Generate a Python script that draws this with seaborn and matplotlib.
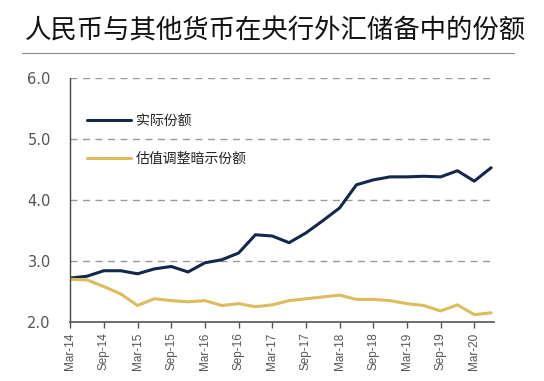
import numpy as np
import pandas as pd
import matplotlib
matplotlib.use('Agg')
import matplotlib.pyplot as plt
import seaborn as sns

# 季度数据 Mar-14 .. Jun-20
quarters = ['Mar-14', 'Jun-14', 'Sep-14', 'Dec-14', 'Mar-15', 'Jun-15', 'Sep-15', 'Dec-15',
            'Mar-16', 'Jun-16', 'Sep-16', 'Dec-16', 'Mar-17', 'Jun-17', 'Sep-17', 'Dec-17',
            'Mar-18', 'Jun-18', 'Sep-18', 'Dec-18', 'Mar-19', 'Jun-19', 'Sep-19', 'Dec-19',
            'Mar-20', 'Jun-20']
actual = [2.72, 2.75, 2.84, 2.84, 2.79, 2.87, 2.91, 2.82, 2.97, 3.02, 3.13, 3.43, 3.41,
          3.30, 3.46, 3.66, 3.87, 4.25, 4.33, 4.38, 4.38, 4.39, 4.38, 4.48, 4.31, 4.53]
implied = [2.70, 2.69, 2.58, 2.46, 2.27, 2.38, 2.35, 2.33, 2.35, 2.27, 2.30, 2.25, 2.28,
           2.35, 2.38, 2.41, 2.44, 2.37, 2.37, 2.35, 2.30, 2.27, 2.18, 2.28, 2.12, 2.15]
series_names = ['实际份额', '估值调整暗示份额']
colors = ['#14284b', '#dcbc5c']

df = pd.DataFrame({'idx': np.arange(len(quarters)), series_names[0]: actual, series_names[1]: implied})
long = df.melt(id_vars='idx', var_name='series', value_name='value')

sns.set_style('white')
plt.rcParams['font.family'] = ['Noto Sans CJK SC', 'DejaVu Sans']

fig = plt.figure(figsize=(5.44, 3.81), dpi=100)
ax = fig.add_axes([0.129, 0.155, 0.78, 0.64])

sns.lineplot(data=long, x='idx', y='value', hue='series', palette=colors, linewidth=2.2, ax=ax)

ax.set_ylim(2.0, 6.0)
ax.set_xlim(0, len(quarters) - 0.8)
ax.set_yticks([2.0, 3.0, 4.0, 5.0, 6.0])
ax.set_yticklabels(['2.0', '3.0', '4.0', '5.0', '6.0'], family=['DejaVu Sans'], fontsize=10.5, color='#555555')
ax.set_xticks(np.arange(0, len(quarters), 2))
ax.set_xticklabels(quarters[::2], rotation=90, fontsize=8.5, color='#555555', family=['Liberation Sans'])
ax.tick_params(axis='x', length=4, width=1, color='#555555', direction='out', bottom=True)
ax.tick_params(axis='y', length=0, pad=14)
for y in [3.0, 4.0, 5.0, 6.0]:
    ax.axhline(y, color='#999999', linestyle=(0, (5, 4)), linewidth=1, zorder=0)
ax.set_xlabel('')
ax.set_ylabel('')
for s in ['top', 'right']:
    ax.spines[s].set_visible(False)
ax.spines['left'].set_color('#444444')
ax.spines['bottom'].set_color('#555555')
ax.spines['left'].set_linewidth(1)
ax.spines['bottom'].set_linewidth(1.2)

leg = ax.legend(frameon=False, loc='upper left', bbox_to_anchor=(0.01, 0.905), fontsize=10,
                handlelength=3.2, labelspacing=1.7, handletextpad=0.3)
for t in leg.get_texts():
    t.set_color('#222222')

fig.text(0.045, 0.918, '人民币与其他货币在央行外汇储备中的份额', fontsize=19, color='#111111',
         fontweight='medium', va='center', ha='left')
fig.add_artist(plt.Line2D([0.04, 0.945], [0.862, 0.862], color='#888888', linewidth=0.8))

fig.savefig('out.png', dpi=100)
